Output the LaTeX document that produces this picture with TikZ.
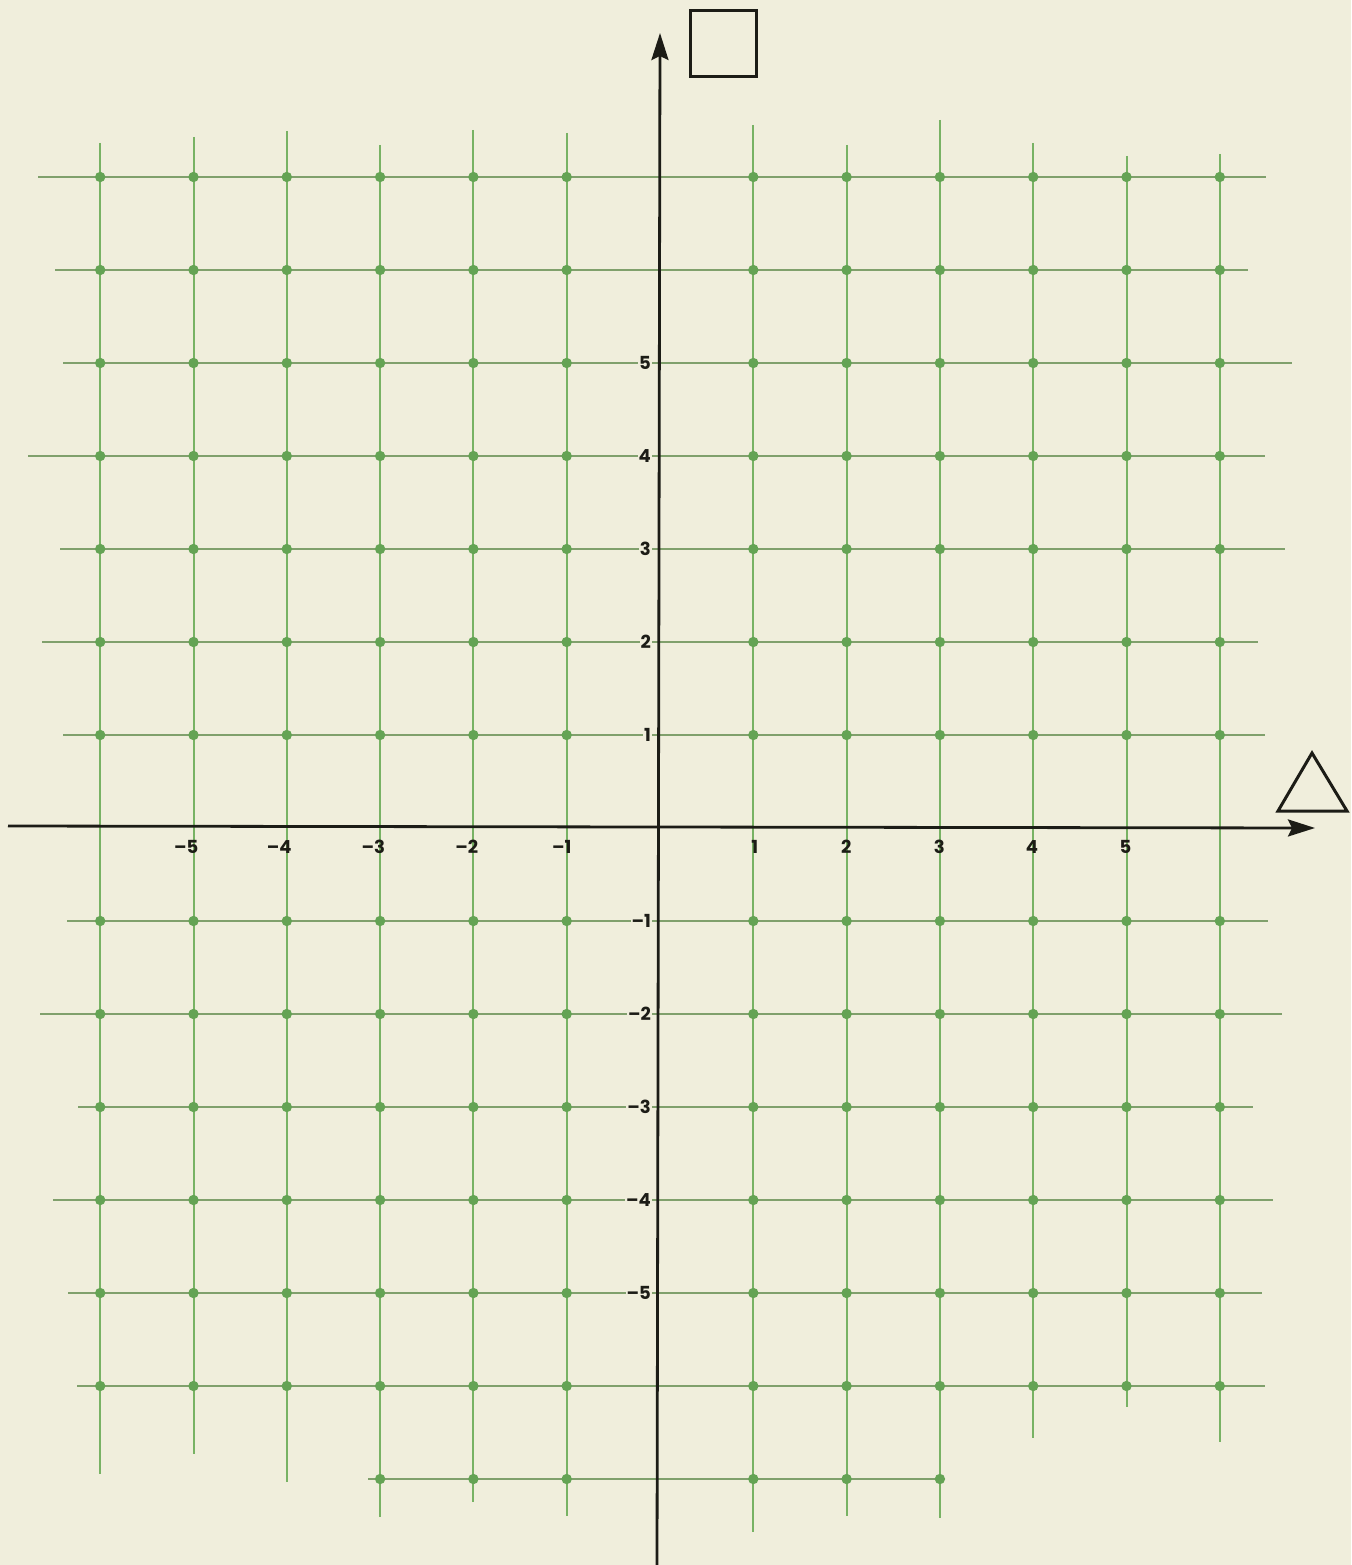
\documentclass[tikz,border=0pt]{standalone}
\usepackage{fontspec}
\setmainfont{Poppins}
\usetikzlibrary{arrows.meta}
\definecolor{paper}{RGB}{240,238,220}
\definecolor{hline}{RGB}{128,160,108}
\definecolor{vline}{RGB}{120,178,100}
\definecolor{gdotc}{RGB}{100,163,84}
\definecolor{ink}{RGB}{28,28,22}
\begin{document}
\begin{tikzpicture}[x=1pt,y=-1pt,
  hgrid/.style={draw=hline,line width=2pt},
  vgrid/.style={draw=vline,line width=2pt},
  gdot/.style={fill=gdotc},
  axisline/.style={draw=ink,line width=2.8pt,-{Stealth[length=27pt,width=17pt,inset=4pt]}},
  outline/.style={draw=ink,line width=3pt},
  lab/.style={font=\bfseries\fontsize{18}{18}\selectfont,text=ink,inner sep=1pt},
  ylab/.style={lab,anchor=east,fill=paper},
  xlab/.style={lab,anchor=north east}]
\fill[paper] (0,0) rectangle (1351,1565);
\useasboundingbox (0,0) rectangle (1351,1565);
% horizontal grid lines
\foreach \j/\l/\r in {7/38/1266, 6/55/1248, 5/63/1292, 4/28/1265, 3/60/1285, 2/42/1258, 1/63/1265,
  -1/67/1268, -2/40/1282, -3/78/1253, -4/53/1273, -5/68/1262, -6/77/1265, -7/368/940}
  \draw[hgrid] (\l,{828-93*\j}) -- (\r,{828-93*\j});
% vertical grid lines
\foreach \i/\t/\b in {-6/143/1474, -5/137/1454, -4/131/1482, -3/145/1517, -2/130/1502, -1/133/1516,
  1/125/1532, 2/145/1516, 3/120/1518, 4/143/1438, 5/156/1407, 6/154/1442}
  \draw[vgrid] ({660+93.3*\i},\t) -- ({660+93.3*\i},\b);
% grid points
\foreach \j in {-6,...,-1,1,2,...,7}
  \foreach \i in {-6,...,-1,1,2,...,6}
    \fill[gdot] ({660+93.3*\i},{828-93*\j}) circle (5.2pt);
\foreach \i in {-3,-2,-1,1,2,3}
  \fill[gdot] ({660+93.3*\i},{828-93*(-7)}) circle (5.2pt);
% y labels
\foreach \j in {5,4,3,2,1}
  \node[ylab] (ylab\j) at (652,{828-93*\j}) {\j};
\foreach \j in {1,...,5}
  \node[ylab] (ylabm\j) at (652,{828+93*\j}) {–\j};
% x labels
\foreach \i in {1,...,5}
  \node[xlab] (xlab\i) at ({666+93.3*\i},839) {\i};
\foreach \i in {1,...,5}
  \node[xlab] (xlabm\i) at ({666-93.3*\i},839) {–\i};
% axes
\coordinate (xstart) at (8,826);
\coordinate (xend) at (1315,828);
\coordinate (ystart) at (657,1565);
\coordinate (yend) at (660,33);
\draw[axisline] (xstart) -- (xend);
\draw[axisline] (ystart) -- (yend);
% square and triangle
\node[outline, minimum width=66pt, minimum height=66pt, inner sep=0pt] (square) at (723.5,44) {};
\coordinate (tapex) at (1312,753);
\coordinate (tleft) at (1278,811);
\coordinate (tright) at (1347,811);
\draw[outline] (tapex) -- (tleft) -- (tright) -- cycle;
\end{tikzpicture}
\end{document}
